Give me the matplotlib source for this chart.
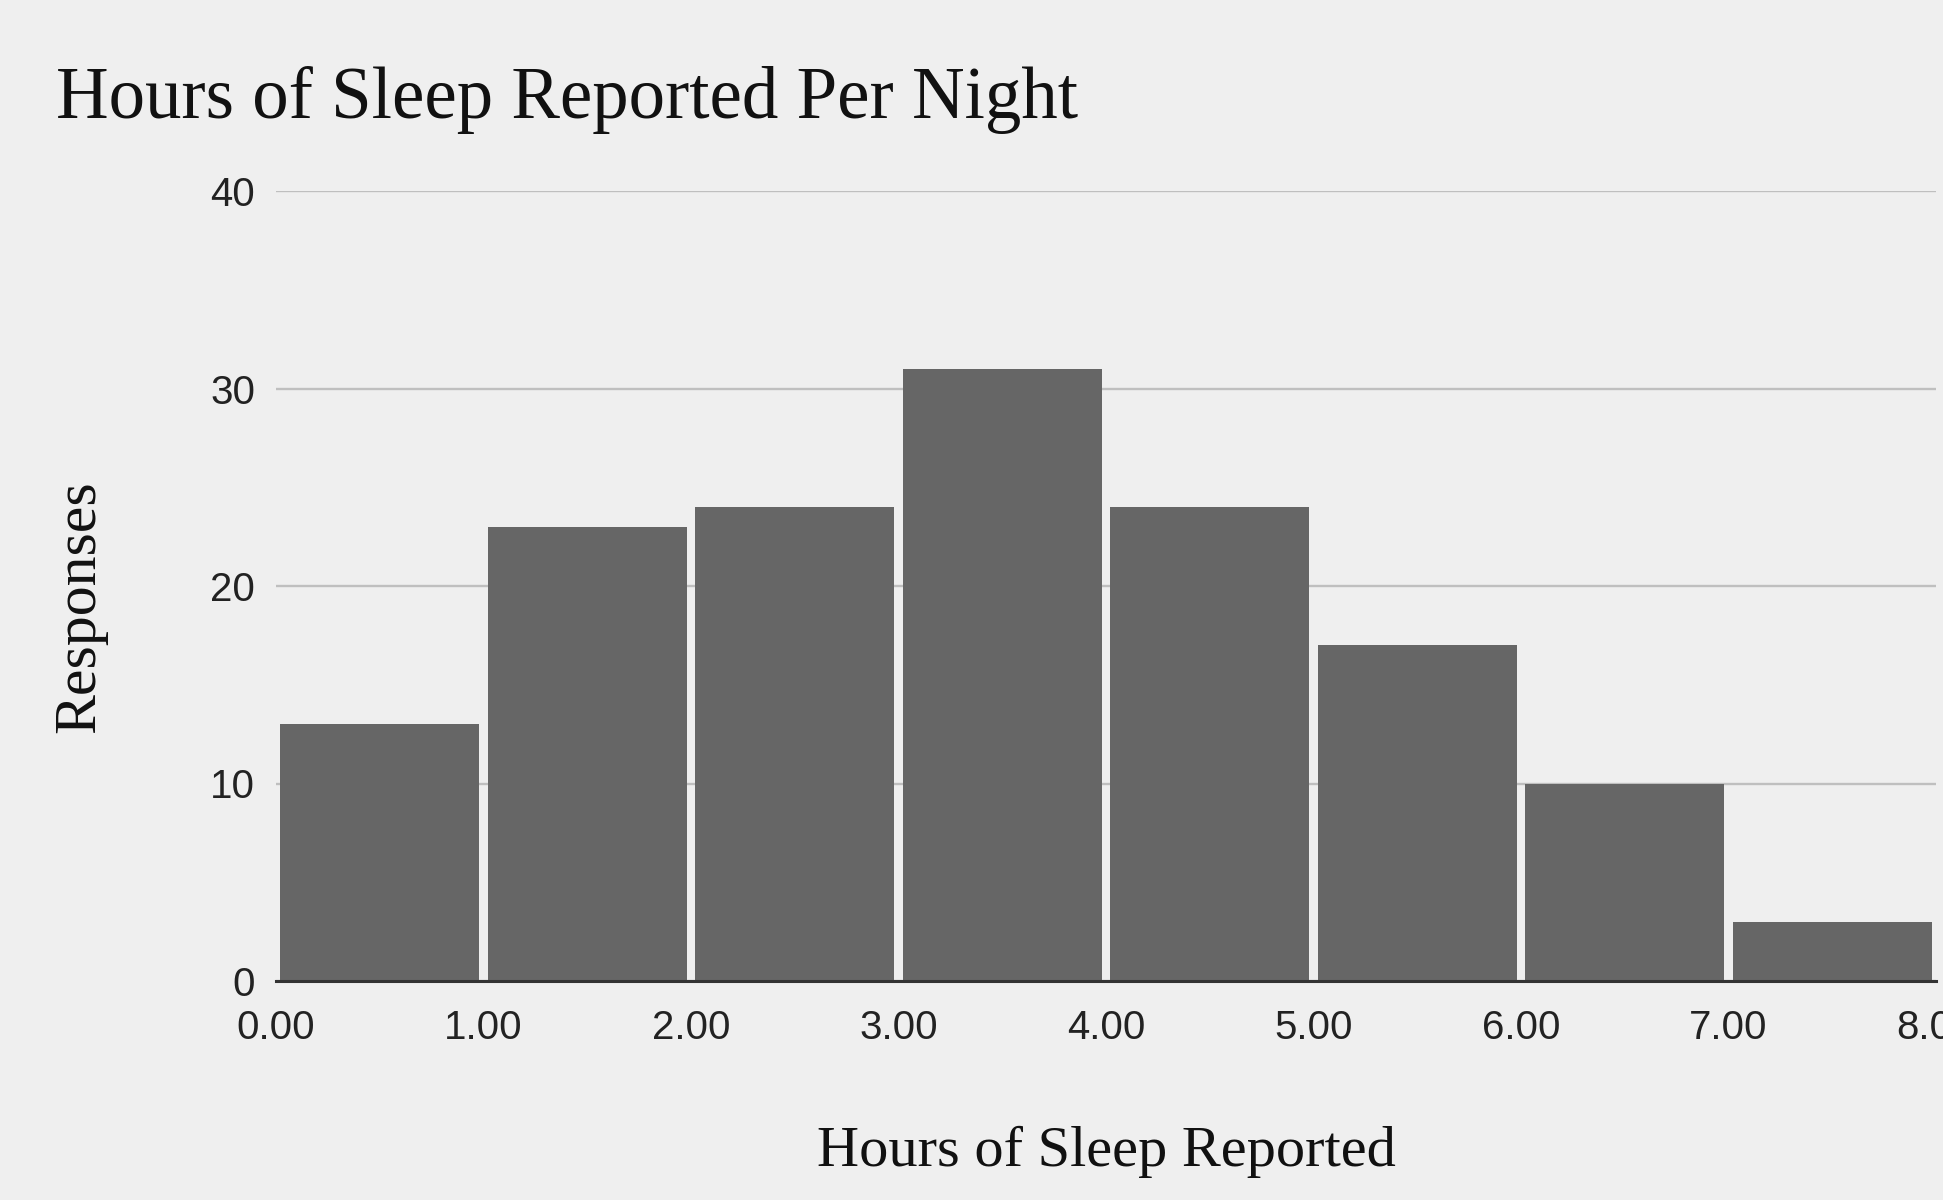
import matplotlib
matplotlib.use("Agg")
import matplotlib.pyplot as plt
import numpy as np

# Data
bin_edges = [0, 1, 2, 3, 4, 5, 6, 7, 8]
counts = [13, 23, 24, 31, 24, 17, 10, 3]
x_ticks = [0, 1, 2, 3, 4, 5, 6, 7, 8]
x_tick_labels = ["0.00", "1.00", "2.00", "3.00", "4.00", "5.00", "6.00", "7.00", "8.00"]
y_ticks = [0, 10, 20, 30, 40]
title = "Hours of Sleep Reported Per Night"
x_label = "Hours of Sleep Reported"
y_label = "Responses"

BG = "#efefef"
BAR = "#666666"

fig = plt.figure(figsize=(19.43, 12.0), dpi=100, facecolor=BG)
ax = fig.add_axes([276/1943, 1 - 981/1200, (1936-276)/1943, (981-191)/1200])
ax.set_facecolor(BG)

inset = 0.02
lefts = np.array(bin_edges[:-1], dtype=float) + inset
ax.bar(lefts, counts, width=1 - 2*inset, align="edge", color=BAR, zorder=2)

ax.set_xlim(0, 8)
ax.set_ylim(0, 40)
ax.set_yticks(y_ticks)
ax.set_yticklabels([str(v) for v in y_ticks])
ax.set_xticks(x_ticks)
ax.set_xticklabels(x_tick_labels)

ax.yaxis.grid(True, color="#bfbfbf", linewidth=1.7, zorder=0)
ax.set_axisbelow(True)
for s in ["top", "right", "left"]:
    ax.spines[s].set_visible(False)
ax.spines["bottom"].set_color("#333333")
ax.spines["bottom"].set_linewidth(2.2)
ax.spines["bottom"].set_zorder(3)

ax.tick_params(axis="both", length=0, labelsize=29, labelcolor="#222222")
ax.tick_params(axis="y", pad=15)
ax.tick_params(axis="x", pad=20)
for lbl in ax.get_xticklabels() + ax.get_yticklabels():
    lbl.set_fontfamily("Liberation Sans")
ax.get_xticklabels()[-1].set_clip_on(False)

serif = "Liberation Serif"
fig.text(56/1943, 1 - 118/1200, title, fontsize=52.5, family=serif, color="#111111",
         ha="left", va="baseline")
fig.text(1106/1943, 1 - 1152/1200, x_label, fontsize=42, family=serif, color="#111111",
         ha="center", va="center")
fig.text(80/1943, 1 - 607/1200, y_label, fontsize=43, family=serif, color="#111111",
         ha="center", va="center", rotation=90)

fig.savefig("out.png", dpi=100, facecolor=BG)
